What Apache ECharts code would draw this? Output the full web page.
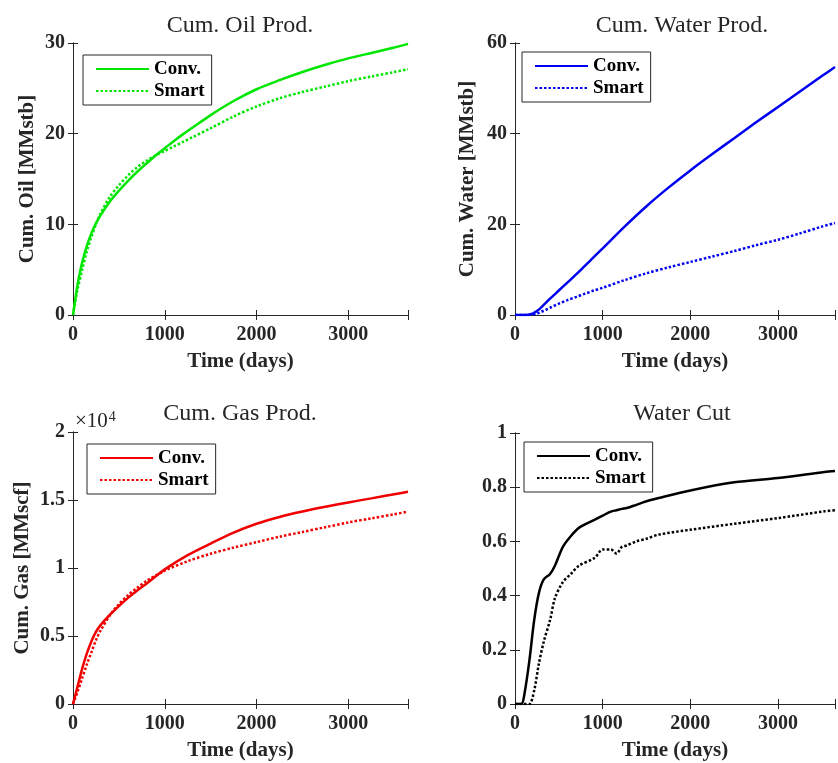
<!DOCTYPE html>
<html>
<head>
<meta charset="utf-8">
<script src="https://cdn.jsdelivr.net/npm/echarts@6/dist/echarts.min.js"></script>
<style>
  html, body { margin: 0; padding: 0; background: #fff; }
  #main { width: 838px; height: 763px; }
</style>
</head>
<body>
<div id="main"></div>
<script>
// days
const oilDays = [0, 50, 100, 150, 200, 250, 300, 400, 500, 600, 700, 800, 900, 1000, 1100, 1200, 1300, 1500, 1750, 2000, 2250, 2500, 2750, 3000, 3250, 3500, 3650];
const oilConv = [0, 3.4, 5.8, 7.6, 9.0, 10.1, 11.0, 12.5, 13.7, 14.8, 15.8, 16.7, 17.6, 18.4, 19.2, 19.95, 20.65, 22.05, 23.6, 24.9, 25.9, 26.8, 27.6, 28.3, 28.9, 29.5, 29.9];
const oilSmart = [0, 2.8, 5.0, 7.0, 8.6, 10.0, 11.2, 13.0, 14.3, 15.4, 16.3, 17.0, 17.6, 18.1, 18.6, 19.1, 19.6, 20.6, 21.9, 23.0, 23.9, 24.6, 25.2, 25.8, 26.3, 26.8, 27.1];

const waterDays = [0, 100, 150, 200, 250, 300, 400, 500, 600, 700, 800, 900, 1000, 1250, 1500, 1750, 2000, 2250, 2500, 2750, 3000, 3250, 3500, 3650];
const waterConv = [0, 0, 0.05, 0.3, 0.9, 1.7, 3.6, 5.4, 7.2, 9.0, 10.9, 12.8, 14.7, 19.5, 24.0, 28.1, 31.9, 35.5, 39.0, 42.5, 45.9, 49.3, 52.7, 54.7];
const waterSmart = [0, 0, 0, 0.05, 0.3, 0.7, 1.6, 2.5, 3.3, 4.0, 4.7, 5.4, 6.0, 7.7, 9.2, 10.5, 11.7, 12.9, 14.1, 15.4, 16.6, 18.0, 19.5, 20.3];

const gasDays = [0, 50, 100, 150, 200, 250, 300, 400, 500, 600, 700, 800, 1000, 1250, 1500, 1750, 2000, 2250, 2500, 2750, 3000, 3250, 3500, 3650];
const gasConv = [0, 1300, 2600, 3700, 4600, 5300, 5800, 6550, 7200, 7800, 8350, 8850, 9900, 10950, 11800, 12600, 13250, 13750, 14150, 14500, 14820, 15120, 15420, 15600];
const gasSmart = [0, 900, 1900, 2900, 3800, 4700, 5400, 6500, 7350, 8000, 8550, 9050, 9800, 10500, 11050, 11500, 11900, 12300, 12650, 13000, 13350, 13650, 13950, 14150];

const cutDays = [0, 73, 109, 164, 219, 273, 328, 400, 455, 546, 638, 729, 911, 1000, 1093, 1158, 1220, 1275, 1384, 1500, 1639, 2000, 2500, 3000, 3530, 3650];
const cutConv = [0, 0, 0.04, 0.16, 0.31, 0.41, 0.46, 0.48, 0.51, 0.58, 0.62, 0.65, 0.68, 0.695, 0.71, 0.715, 0.72, 0.723, 0.735, 0.748, 0.76, 0.788, 0.818, 0.834, 0.856, 0.86];
const cutSmart = [0, 0, 0, 0, 0.05, 0.15, 0.23, 0.31, 0.39, 0.45, 0.48, 0.51, 0.54, 0.57, 0.57, 0.555, 0.58, 0.585, 0.60, 0.61, 0.625, 0.643, 0.665, 0.686, 0.711, 0.715];

const legendNames = ['Conv.', 'Smart'];

const FONT = 'Liberation Serif';
const INK = '#262626';

const grids = [
  { left: 73, top: 43, width: 335, height: 272 },
  { left: 515, top: 43, width: 334, height: 272 },
  { left: 73, top: 432, width: 335, height: 272 },
  { left: 515, top: 433, width: 334, height: 271 }
];

const yCfg = [
  { min: 0, max: 30, interval: 10, name: 'Cum. Oil [MMstb]', gap: 35, fmt: v => v },
  { min: 0, max: 60, interval: 20, name: 'Cum. Water [MMstb]', gap: 37, fmt: v => v },
  { min: 0, max: 20000, interval: 5000, name: 'Cum. Gas [MMscf]', gap: 40, fmt: v => v / 10000 },
  { min: 0, max: 1, interval: 0.2, name: '', gap: 35, fmt: v => +v.toFixed(1) }
];

const titles = ['Cum. Oil Prod.', 'Cum. Water Prod.', 'Cum. Gas Prod.', 'Water Cut'];
const titleTops = [14, 14, 402, 402];

const xAxes = [];
const yAxes = [];
grids.forEach((g, i) => {
  const tick = { show: true, inside: true, length: 5, lineStyle: { color: INK } };
  const line = { show: true, lineStyle: { color: INK, width: 1 } };
  xAxes.push({
    gridIndex: i, type: 'value', min: 0, max: 3650, interval: 1000,
    name: 'Time (days)', nameLocation: 'middle', nameGap: 36,
    nameTextStyle: { fontFamily: FONT, fontWeight: 'bold', fontSize: 21, color: INK },
    axisLine: line, axisTick: tick, splitLine: { show: false },
    axisLabel: {
      margin: 10, fontFamily: FONT, fontWeight: 'bold', fontSize: 20, color: INK,
      formatter: v => (v % 1000 === 0 ? v : '')
    }
  });
  xAxes.push({
    gridIndex: i, type: 'value', position: 'top', min: 0, max: 3650, interval: 1000,
    axisLine: line, axisTick: tick, axisLabel: { show: false }, splitLine: { show: false }
  });
  const c = yCfg[i];
  yAxes.push({
    gridIndex: i, type: 'value', min: c.min, max: c.max, interval: c.interval,
    name: c.name, nameLocation: 'middle', nameGap: c.gap,
    nameTextStyle: { fontFamily: FONT, fontWeight: 'bold', fontSize: 21, color: INK },
    axisLine: line, axisTick: tick, splitLine: { show: false },
    axisLabel: { margin: 8, fontFamily: FONT, fontWeight: 'bold', fontSize: 20, color: INK, formatter: c.fmt }
  });
  yAxes.push({
    gridIndex: i, type: 'value', position: 'right', min: c.min, max: c.max, interval: c.interval,
    axisLine: line, axisTick: tick, axisLabel: { show: false }, splitLine: { show: false }
  });
});

function lineSeries(id, idx, days, vals, color, dotted) {
  return {
    name: id, type: 'line', xAxisIndex: idx * 2, yAxisIndex: idx * 2,
    data: days.map((d, k) => [d, vals[k]]),
    symbol: 'none', smooth: 0.3, silent: true,
    lineStyle: { color: color, width: 2.5, type: dotted ? [2.5, 2] : 'solid' },
    itemStyle: { color: color }
  };
}

const series = [
  lineSeries('oil-conv', 0, oilDays, oilConv, '#00e600', false),
  lineSeries('oil-smart', 0, oilDays, oilSmart, '#00e600', true),
  lineSeries('water-conv', 1, waterDays, waterConv, '#0000f0', false),
  lineSeries('water-smart', 1, waterDays, waterSmart, '#0000f0', true),
  lineSeries('gas-conv', 2, gasDays, gasConv, '#f00000', false),
  lineSeries('gas-smart', 2, gasDays, gasSmart, '#f00000', true),
  lineSeries('cut-conv', 3, cutDays, cutConv, '#000000', false),
  lineSeries('cut-smart', 3, cutDays, cutSmart, '#000000', true)
];

const legendPos = [[83, 55, 'oil'], [522, 52, 'water'], [87, 444, 'gas'], [524, 442, 'cut']];
const legends = legendPos.map(p => ({
  orient: 'vertical', left: p[0], top: p[1],
  data: [p[2] + '-conv', p[2] + '-smart'],
  formatter: n => (n.endsWith('conv') ? legendNames[0] : legendNames[1]),
  itemWidth: 53, itemHeight: 12, itemGap: 2,
  padding: [4, 7, 4, 12],
  borderColor: INK, borderWidth: 1, backgroundColor: '#fff',
  selectedMode: false,
  itemStyle: { opacity: 0 },
  textStyle: { fontFamily: FONT, fontWeight: 'bold', fontSize: 19, color: '#000', lineHeight: 20 }
}));

const option = {
  backgroundColor: '#fff',
  animation: false,
  title: titles.map((t, i) => ({
    text: t, left: grids[i].left + 167, top: titleTops[i], textAlign: 'center', padding: 0,
    textStyle: { fontFamily: FONT, fontWeight: 'normal', fontSize: 24, color: INK }
  })),
  grid: grids,
  xAxis: xAxes,
  yAxis: yAxes,
  legend: legends,
  series: series,
  graphic: [{
    type: 'text', left: 75, top: 410,
    style: {
      text: '×10{sup|4}', fontFamily: FONT, fontSize: 21, fill: INK,
      rich: { sup: { fontFamily: FONT, fontSize: 14, verticalAlign: 'top', padding: [0, 0, 9, 1], fill: INK } }
    }
  }]
};

const chart = echarts.init(document.getElementById('main'), null, { renderer: 'canvas' });
chart.setOption(option);
</script>
</body>
</html>
